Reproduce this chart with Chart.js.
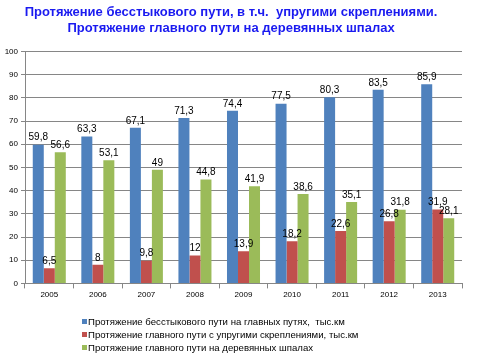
<!DOCTYPE html>
<html>
<head>
<meta charset="utf-8">
<script src="https://cdn.jsdelivr.net/npm/chart.js@4"></script>
<style>
  html, body { margin: 0; padding: 0; background: #fff; }
  #wrap { width: 480px; height: 360px; position: relative; }
</style>
</head>
<body>
<div id="wrap"><canvas id="chart" width="480" height="360"></canvas></div>
<script>
// ==================== DATA ====================
const years = ['2005', '2006', '2007', '2008', '2009', '2010', '2011', '2012', '2013'];
const weldedTrack = [59.8, 63.3, 67.1, 71.3, 74.4, 77.5, 80.3, 83.5, 85.9];
const elasticFastening = [6.5, 8, 9.8, 12, 13.9, 18.2, 22.6, 26.8, 31.9];
const woodenSleepers = [56.6, 53.1, 49, 44.8, 41.9, 38.6, 35.1, 31.8, 28.1];

const seriesNames = [
    'Протяжение бесстыкового пути на главных путях,  тыс.км',
    'Протяжение главного пути с упругими скреплениями, тыс.км',
    'Протяжение главного пути на деревянных шпалах'
];
const seriesColors = ['#4F81BD', '#C0504D', '#9BBB59'];
const titleLines = [
    'Протяжение бесстыкового пути, в т.ч.  упругими скреплениями.',
    'Протяжение главного пути на деревянных шпалах'
];

const labelFont = '10px "Liberation Sans", Arial, sans-serif';

// ==================== PLUGINS ====================
// value labels above each bar, decimal comma
const valueLabels = {
    id: 'valueLabels',
    afterDatasetsDraw(chart) {
        const ctx = chart.ctx;
        ctx.save();
        ctx.font = labelFont;
        ctx.fillStyle = '#000';
        ctx.textAlign = 'center';
        ctx.textBaseline = 'bottom';
        chart.data.datasets.forEach((ds, i) => {
            chart.getDatasetMeta(i).data.forEach((bar, j) => {
                const txt = String(ds.data[j]).replace('.', ',');
                ctx.fillText(txt, bar.x, bar.y - 2);
            });
        });
        ctx.restore();
    }
};

// legend stacked in rows, left aligned under the plot
const stackedLegend = {
    id: 'stackedLegend',
    afterDraw(chart) {
        const ctx = chart.ctx;
        ctx.save();
        ctx.font = '9.6px "Liberation Sans", Arial, sans-serif';
        ctx.textBaseline = 'middle';
        ctx.textAlign = 'left';
        chart.data.datasets.forEach((ds, i) => {
            const y = 322 + i * 13;
            ctx.fillStyle = ds.backgroundColor;
            ctx.fillRect(82, y - 3, 5, 5);
            ctx.fillStyle = '#000';
            ctx.fillText(ds.label, 88, y);
        });
        ctx.restore();
    }
};

// ==================== CHART ====================
new Chart(document.getElementById('chart'), {
    type: 'bar',
    data: {
        labels: years,
        datasets: [
            { label: seriesNames[0], data: weldedTrack, backgroundColor: seriesColors[0] },
            { label: seriesNames[1], data: elasticFastening, backgroundColor: seriesColors[1] },
            { label: seriesNames[2], data: woodenSleepers, backgroundColor: seriesColors[2] }
        ]
    },
    options: {
        responsive: false,
        animation: false,
        layout: { padding: { left: 0, right: 18, top: 0, bottom: 58 } },
        datasets: { bar: { categoryPercentage: 0.68, barPercentage: 1 } },
        plugins: {
            legend: { display: false },
            tooltip: { enabled: false },
            title: {
                display: true,
                text: titleLines,
                color: '#1A1AF0',
                font: { family: 'Arial, "Liberation Sans", sans-serif', size: 13, weight: 'bold', lineHeight: 1.25 },
                padding: { top: 4, bottom: 15 }
            }
        },
        scales: {
            x: {
                grid: { display: true, drawOnChartArea: false, drawTicks: true, tickLength: 5, offset: true, color: '#868686' },
                border: { color: '#868686' },
                ticks: { color: '#000', font: { family: '"Liberation Sans", Arial, sans-serif', size: 8 }, padding: 2 }
            },
            y: {
                min: 0,
                max: 100,
                afterFit(scale) { scale.width = 25; },
                grid: { color: '#868686', tickLength: 4 },
                border: { color: '#868686' },
                ticks: { stepSize: 10, color: '#000', font: { family: '"Liberation Sans", Arial, sans-serif', size: 8 }, padding: 3 }
            }
        }
    },
    plugins: [valueLabels, stackedLegend]
});
</script>
</body>
</html>
